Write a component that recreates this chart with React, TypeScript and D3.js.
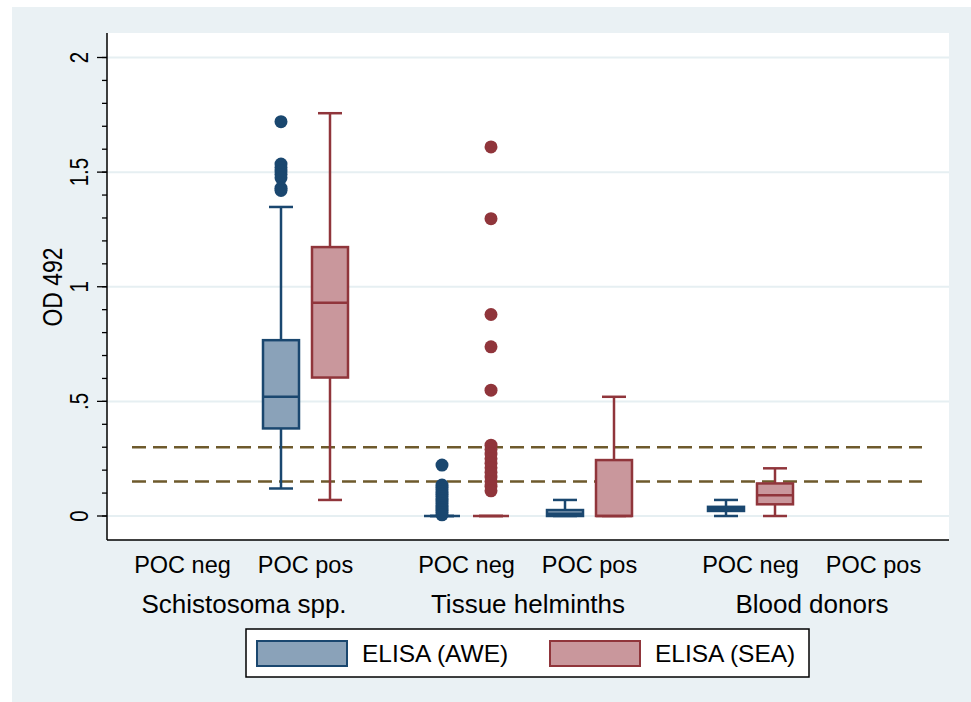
import React from "react";
import * as d3 from "d3";

const W = 971;
const H = 702;
const PLOT = { left: 107, right: 949, top: 33, bottom: 540 };

const groups = ["Schistosoma spp.", "Tissue helminths", "Blood donors"];
const pocLevels = ["POC neg", "POC pos"];
const seriesNames = ["ELISA (AWE)", "ELISA (SEA)"];
const yTicks = [0, 0.5, 1, 1.5, 2];
const yTickLabels = ["0", ".5", "1", "1.5", "2"];
const yMinor = d3.range(0, 2.01, 0.1);
const cutoffs = [0.3, 0.15];

// [group, poc, lower whisker, q1, median, q3, upper whisker]
const aweStats: [string, string, number, number, number, number, number][] = [
  ["Schistosoma spp.", "POC pos", 0.12, 0.382, 0.52, 0.767, 1.348],
  ["Tissue helminths", "POC neg", 0, 0, 0, 0, 0],
  ["Tissue helminths", "POC pos", 0, 0, 0.01, 0.026, 0.07],
  ["Blood donors", "POC neg", 0, 0.022, 0.03, 0.04, 0.07],
];
const seaStats: [string, string, number, number, number, number, number][] = [
  ["Schistosoma spp.", "POC pos", 0.07, 0.604, 0.93, 1.173, 1.757],
  ["Tissue helminths", "POC neg", 0, 0, 0, 0, 0],
  ["Tissue helminths", "POC pos", 0, 0, 0, 0.244, 0.52],
  ["Blood donors", "POC neg", 0, 0.051, 0.09, 0.142, 0.208],
];

// [group, poc, value]
const aweOutliers: [string, string, number][] = [
  ["Schistosoma spp.", "POC pos", 1.72],
  ["Schistosoma spp.", "POC pos", 1.535],
  ["Schistosoma spp.", "POC pos", 1.52],
  ["Schistosoma spp.", "POC pos", 1.505],
  ["Schistosoma spp.", "POC pos", 1.49],
  ["Schistosoma spp.", "POC pos", 1.475],
  ["Schistosoma spp.", "POC pos", 1.43],
  ["Schistosoma spp.", "POC pos", 1.42],
  ["Tissue helminths", "POC neg", 0.222],
  ["Tissue helminths", "POC neg", 0.135],
  ["Tissue helminths", "POC neg", 0.125],
  ["Tissue helminths", "POC neg", 0.115],
  ["Tissue helminths", "POC neg", 0.105],
  ["Tissue helminths", "POC neg", 0.095],
  ["Tissue helminths", "POC neg", 0.085],
  ["Tissue helminths", "POC neg", 0.075],
  ["Tissue helminths", "POC neg", 0.065],
  ["Tissue helminths", "POC neg", 0.055],
  ["Tissue helminths", "POC neg", 0.045],
  ["Tissue helminths", "POC neg", 0.035],
  ["Tissue helminths", "POC neg", 0.025],
  ["Tissue helminths", "POC neg", 0.015],
  ["Tissue helminths", "POC neg", 0.005],
];
const seaOutliers: [string, string, number][] = [
  ["Tissue helminths", "POC neg", 1.61],
  ["Tissue helminths", "POC neg", 1.297],
  ["Tissue helminths", "POC neg", 0.879],
  ["Tissue helminths", "POC neg", 0.738],
  ["Tissue helminths", "POC neg", 0.549],
  ["Tissue helminths", "POC neg", 0.309],
  ["Tissue helminths", "POC neg", 0.29],
  ["Tissue helminths", "POC neg", 0.27],
  ["Tissue helminths", "POC neg", 0.25],
  ["Tissue helminths", "POC neg", 0.23],
  ["Tissue helminths", "POC neg", 0.21],
  ["Tissue helminths", "POC neg", 0.19],
  ["Tissue helminths", "POC neg", 0.17],
  ["Tissue helminths", "POC neg", 0.15],
  ["Tissue helminths", "POC neg", 0.13],
  ["Tissue helminths", "POC neg", 0.11],
];

const COLORS = [
  { fill: "#8aa2b9", stroke: "#1a476f" },
  { fill: "#c9979c", stroke: "#90353b" },
];
const FONT = "'Liberation Sans', Arial, sans-serif";

export default function App() {
  const y = d3.scaleLinear().domain([0, 2]).range([516, 57.5]);
  const xGroup = d3.scalePoint().domain(groups).range([PLOT.left + 137, PLOT.right - 137]);
  const xPoc = d3.scalePoint().domain(pocLevels).range([-61.5, 61.5]);
  const xSeries = d3.scalePoint().domain(seriesNames).range([-24.5, 24.5]);

  const catX = (g: string, p: string) => (xGroup(g) as number) + (xPoc(p) as number);
  const boxW = 36;
  const capW = 24;

  const boxSets = [aweStats, seaStats];
  const outSets = [aweOutliers, seaOutliers];

  return (
    <svg width={W} height={H} style={{ position: "absolute", left: 0, top: 0 }} fontFamily={FONT}>
      <rect x={0} y={0} width={W} height={H} fill="#fff" />
      <rect x={12} y={7} width={W - 12} height={H - 7} fill="#eaf1f4" />
      <rect x={PLOT.left} y={PLOT.top} width={PLOT.right - PLOT.left} height={PLOT.bottom - PLOT.top} fill="#fff" />

      {/* grid */}
      {yTicks.map((t) => (
        <line key={"g" + t} x1={PLOT.left} x2={PLOT.right} y1={y(t)} y2={y(t)} stroke="#e6eff2" strokeWidth={2} />
      ))}

      {/* cutoff lines */}
      {cutoffs.map((c) => (
        <line key={"c" + c} x1={132} x2={922} y1={y(c)} y2={y(c)} stroke="#6e5a2c" strokeWidth={2.5} strokeDasharray="14 7" />
      ))}

      {/* boxes */}
      {boxSets.map((set, si) =>
        set.map(([g, p, lo, q1, med, q3, hi]) => {
          const cx = catX(g, p) + (xSeries(seriesNames[si]) as number);
          const c = COLORS[si];
          return (
            <g key={`b${si}${g}${p}`} stroke={c.stroke} strokeWidth={2.5}>
              <line x1={cx} x2={cx} y1={y(hi)} y2={y(q3)} />
              <line x1={cx} x2={cx} y1={y(q1)} y2={y(lo)} />
              <line x1={cx - capW / 2} x2={cx + capW / 2} y1={y(hi)} y2={y(hi)} />
              <line x1={cx - capW / 2} x2={cx + capW / 2} y1={y(lo)} y2={y(lo)} />
              <rect x={cx - boxW / 2} y={y(q3)} width={boxW} height={Math.max(0, y(q1) - y(q3))} fill={c.fill} />
              <line x1={cx - boxW / 2} x2={cx + boxW / 2} y1={y(med)} y2={y(med)} />
            </g>
          );
        })
      )}

      {/* outliers */}
      {outSets.map((set, si) =>
        set.map(([g, p, v], i) => (
          <circle
            key={`o${si}${i}`}
            cx={catX(g, p) + (xSeries(seriesNames[si]) as number)}
            cy={y(v)}
            r={6.5}
            fill={COLORS[si].stroke}
          />
        ))
      )}

      {/* y axis */}
      <line x1={PLOT.left} x2={PLOT.left} y1={PLOT.top} y2={PLOT.bottom} stroke="#000" strokeWidth={1.5} />
      {yMinor.map((t) => (
        <line key={"m" + t} x1={PLOT.left - 5} x2={PLOT.left} y1={y(t)} y2={y(t)} stroke="#000" strokeWidth={1.3} />
      ))}
      {yTicks.map((t, i) => (
        <g key={"t" + t}>
          <line x1={PLOT.left - 10} x2={PLOT.left} y1={y(t)} y2={y(t)} stroke="#000" strokeWidth={1.3} />
          <text
            transform={`translate(${PLOT.left - 19},${y(t)}) rotate(-90) scale(1,1.25)`}
            textAnchor="middle"
            fontSize={20.5}
            fill="#000"
          >
            {yTickLabels[i]}
          </text>
        </g>
      ))}
      <text transform={`translate(62,287) rotate(-90) scale(1,1.2)`} textAnchor="middle" fontSize={23} fill="#000">
        OD 492
      </text>

      {/* x axis */}
      <line x1={PLOT.left} x2={PLOT.right} y1={PLOT.bottom} y2={PLOT.bottom} stroke="#000" strokeWidth={1.5} />
      {groups.map((g) =>
        pocLevels.map((p) => (
          <text key={"x" + g + p} x={catX(g, p)} y={573} textAnchor="middle" fontSize={23.5} fill="#000">
            {p}
          </text>
        ))
      )}
      {groups.map((g) => (
        <text key={"gl" + g} x={xGroup(g) as number} y={613} textAnchor="middle" fontSize={26} fill="#000">
          {g}
        </text>
      ))}

      {/* legend */}
      <rect x={246} y={629} width={563} height={48} fill="#fff" stroke="#000" strokeWidth={1.5} />
      {seriesNames.map((s, i) => {
        const lx = 257 + i * 293;
        return (
          <g key={"l" + s}>
            <rect x={lx} y={641} width={90} height={25} fill={COLORS[i].fill} stroke={COLORS[i].stroke} strokeWidth={2} />
            <text x={lx + 105} y={662} fontSize={24.5} fill="#000">
              {s}
            </text>
          </g>
        );
      })}
    </svg>
  );
}
